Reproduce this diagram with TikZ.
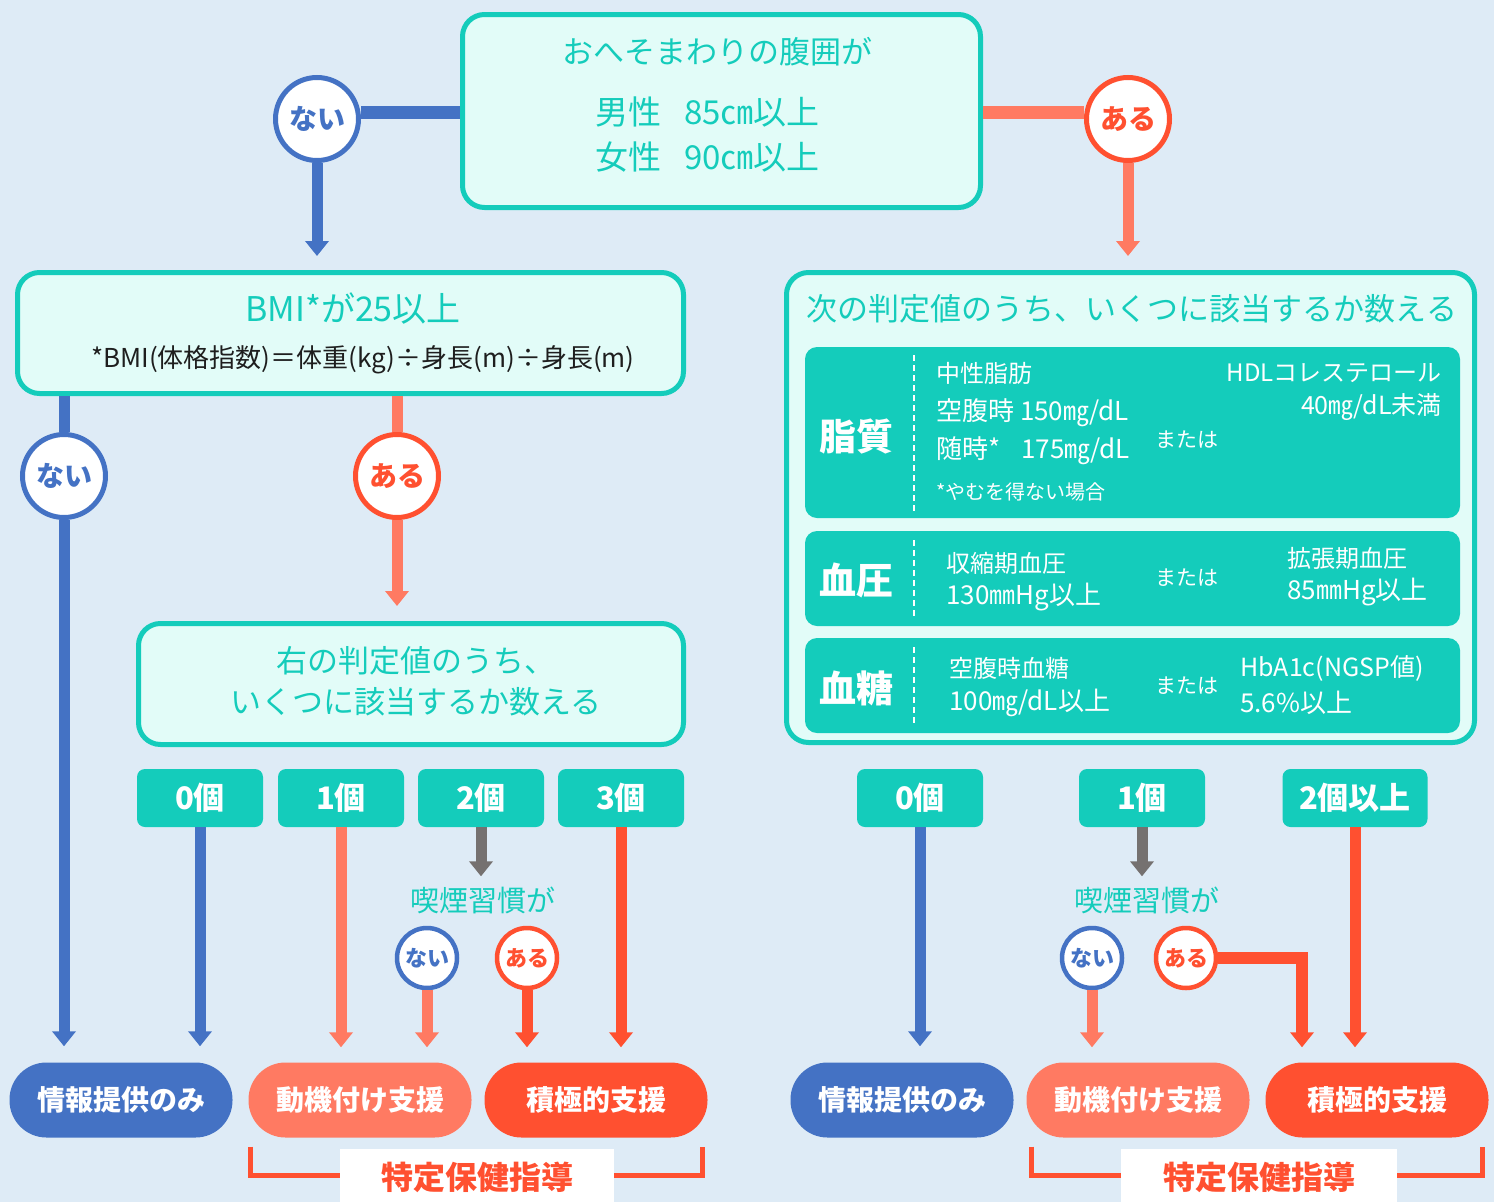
\documentclass[tikz,border=0pt]{standalone}
\usepackage{fontspec}
\setmainfont{Noto Sans CJK JP}
\usetikzlibrary{arrows.meta,calc}
\definecolor{bg}{RGB}{222,235,246}
\definecolor{tl}{RGB}{20,204,187}
\definecolor{lbox}{RGB}{226,252,248}
\definecolor{bl}{RGB}{68,114,196}
\definecolor{sa}{RGB}{255,122,98}
\definecolor{rd}{RGB}{255,80,48}
\definecolor{gy}{RGB}{117,113,112}
\definecolor{ink}{RGB}{30,30,30}
\newcommand{\myfs}[1]{\fontsize{#1}{#1}\selectfont}
\tikzset{
  bigbox/.style={draw=tl, line width=5pt, fill=lbox, rounded corners=22pt, inner sep=0pt},
  rowbox/.style={fill=tl, rounded corners=12pt, inner sep=0pt, minimum width=655pt},
  txt/.style={inner sep=0pt, text=tl},
  wtxt/.style={inner sep=0pt, text=white},
  rowlbl/.style={inner sep=0pt, text=white, font=\bfseries\myfs{37}},
  cnt/.style={fill=tl, rounded corners=8pt, minimum height=58pt, inner sep=0pt, text=white, font=\bfseries\myfs{31}},
  bigc/.style={circle, line width=5pt, fill=white, minimum size=83pt, inner sep=0pt, font=\bfseries\myfs{28}},
  smallc/.style={circle, line width=4.5pt, fill=white, minimum size=60pt, inner sep=0pt, font=\bfseries\myfs{22}},
  pill/.style={rounded corners=37pt, minimum width=223pt, minimum height=75pt, inner sep=0pt, text=white, font=\bfseries\myfs{28}},
  arr/.style={line width=11pt, -{Triangle[width=23pt,length=15pt]}},
  bar/.style={line width=12pt},
  dsh/.style={white, line width=1.5pt, dash pattern=on 6pt off 4pt},
  tag/.style={fill=white, minimum width=274pt, minimum height=56pt, inner sep=0pt, text=rd, font=\bfseries\myfs{32}}
}
\begin{document}
\begin{tikzpicture}[x=1pt,y=-1pt]
\useasboundingbox (0,0) rectangle (1494,1202);
\fill[bg] (0,0) rectangle (1494,1202);

% ---- top box
\node[bigbox, minimum width=518pt, minimum height=193pt] (top) at (721.5,111) {};
\node[txt, font=\myfs{31}] (toptitle) at (717,52) {おへそまわりの腹囲が};
\node[txt, font=\myfs{33}, anchor=west] (men) at (595,112) {男性\hspace{0.7em}85㎝以上};
\node[txt, font=\myfs{33}, anchor=west] (women) at (595,157) {女性\hspace{0.7em}90㎝以上};

\node[bigc, draw=bl, text=bl] (n1) at (317,119) {ない};
\node[bigc, draw=rd, text=rd] (a1) at (1128,119) {ある};

% ---- BMI box
\node[bigbox, minimum width=666pt, minimum height=121pt] (bmi) at (350.5,333) {};
\node[txt, font=\myfs{34}] (bmititle) at (353,309) {BMI*が25以上};
\node[inner sep=0pt, text=ink, font=\myfs{26}] (bmidef) at (363,360) {*BMI(体格指数)＝体重(kg)÷身長(m)÷身長(m)};

% ---- right big box
\node[bigbox, minimum width=688pt, minimum height=470pt] (rbox) at (1130.5,507.5) {};
\node[txt, font=\myfs{31}] (rtitle) at (1132,309) {次の判定値のうち、いくつに該当するか数える};

\node[rowbox, minimum height=171pt] (row1) at (1132.5,432.5) {};
\node[rowbox, minimum height=95pt] (row2) at (1132.5,578.5) {};
\node[rowbox, minimum height=95pt] (row3) at (1132.5,685.5) {};
\draw[dsh] (914,355) -- (914,511);
\draw[dsh] (914,540) -- (914,619);
\draw[dsh] (914,647) -- (914,726);

\node[rowlbl] (l1) at (856,437) {脂質};
\node[wtxt, font=\myfs{24}, anchor=west] (r1a) at (936,373) {中性脂肪};
\node[wtxt, font=\myfs{26}, anchor=west] (r1b) at (936,413) {空腹時 150㎎/dL};
\node[wtxt, font=\myfs{26}, anchor=west] (r1c) at (936,451) {随時*\hspace{0.8em}175㎎/dL};
\node[wtxt, font=\myfs{20}, anchor=west] (r1d) at (936,492) {*やむを得ない場合};
\node[wtxt, font=\myfs{21}] (r1or) at (1187,440) {または};
\node[wtxt, font=\myfs{24}, anchor=east] (r1e) at (1442,373) {HDLコレステロール};
\node[wtxt, font=\myfs{25}, anchor=east] (r1f) at (1442,407) {40㎎/dL未満};

\node[rowlbl] (l2) at (856,580) {血圧};
\node[wtxt, font=\myfs{24}, anchor=west] (r2a) at (946,563) {収縮期血圧};
\node[wtxt, font=\myfs{26}, anchor=west] (r2b) at (946,597) {130㎜Hg以上};
\node[wtxt, font=\myfs{21}] (r2or) at (1187,578) {または};
\node[wtxt, font=\myfs{24}, anchor=west] (r2c) at (1287,558) {拡張期血圧};
\node[wtxt, font=\myfs{26}, anchor=west] (r2d) at (1287,592) {85㎜Hg以上};

\node[rowlbl] (l3) at (856,688) {血糖};
\node[wtxt, font=\myfs{24}, anchor=west] (r3a) at (949,668) {空腹時血糖};
\node[wtxt, font=\myfs{26}, anchor=west] (r3b) at (949,703) {100㎎/dL以上};
\node[wtxt, font=\myfs{21}] (r3or) at (1187,686) {または};
\node[wtxt, font=\myfs{25}, anchor=west] (r3c) at (1240,668) {HbA1c(NGSP値)};
\node[wtxt, font=\myfs{26}, anchor=west] (r3d) at (1240,703) {5.6\%以上};

% ---- left second level
\node[bigc, draw=bl, text=bl] (n2) at (64,476) {ない};
\node[bigc, draw=rd, text=rd] (a2) at (397,476) {ある};

\node[bigbox, minimum width=545pt, minimum height=121pt] (mid) at (411,684) {};
\node[txt, font=\myfs{31}, align=center] (midtext) at (416,681) {右の判定値のうち、\\[10pt]いくつに該当するか数える};

% ---- count boxes
\node[cnt, minimum width=126pt] (c0) at (200,798) {0個};
\node[cnt, minimum width=126pt] (c1) at (341,798) {1個};
\node[cnt, minimum width=126pt] (c2) at (481,798) {2個};
\node[cnt, minimum width=126pt] (c3) at (621,798) {3個};

\node[cnt, minimum width=126pt] (d0) at (920,798) {0個};
\node[cnt, minimum width=126pt] (d1) at (1142,798) {1個};
\node[cnt, minimum width=145pt] (d2) at (1355,798) {2個以上};

\node[txt, font=\myfs{29}] (smk1) at (483,900) {喫煙習慣が};
\node[txt, font=\myfs{29}] (smk2) at (1147,900) {喫煙習慣が};

\node[smallc, draw=bl, text=bl] (sn1) at (427,958) {ない};
\node[smallc, draw=rd, text=rd] (sa1) at (527,958) {ある};
\node[smallc, draw=bl, text=bl] (sn2) at (1092,958) {ない};
\node[smallc, draw=rd, text=rd] (sa2) at (1186,958) {ある};

% ---- result pills
\node[pill, fill=bl] (pL1) at (121,1100) {情報提供のみ};
\node[pill, fill=sa] (pL2) at (360,1100) {動機付け支援};
\node[pill, fill=rd] (pL3) at (596,1100) {積極的支援};
\node[pill, fill=bl] (pR1) at (902,1100) {情報提供のみ};
\node[pill, fill=sa] (pR2) at (1138,1100) {動機付け支援};
\node[pill, fill=rd] (pR3) at (1377,1100) {積極的支援};

% ---- connectors: top
\draw[bar, bl, line width=13pt] ([yshift=7pt]n1.east) -- ([yshift=7pt]n1.east -| top.west);
\draw[bar, sa, line width=13pt] ([yshift=7pt]a1.west -| top.east) -- ([yshift=7pt]a1.west);
\draw[arr, bl, shorten >=14pt] (n1.south) -- (n1.south |- bmi.north);
\draw[arr, sa, shorten >=14pt] (a1.south) -- (a1.south |- rbox.north);

% ---- left branch
\draw[bar, bl, line width=11pt] (bmi.south -| n2) -- (n2.north);
\draw[bar, sa, line width=11pt] (bmi.south -| a2) -- (a2.north);
\draw[arr, bl, shorten >=16pt] (n2.south) -- (n2.south |- pL1.north);
\draw[arr, sa, shorten >=15pt] (a2.south) -- (a2.south |- mid.north);

\draw[arr, bl, shorten >=16pt] (c0.south) -- (c0.south |- pL1.north);
\draw[arr, sa, shorten >=15pt] (c1.south) -- (c1.south |- pL2.north);
\draw[arr, gy, shorten >=10pt] (c2.south) -- (smk1.north -| c2.south);
\draw[arr, sa, shorten >=15pt] (sn1.south) -- (sn1.south |- pL2.north);
\draw[arr, rd, shorten >=15pt] (sa1.south) -- (sa1.south |- pL3.north);
\draw[arr, rd, shorten >=15pt] (c3.south) -- (c3.south |- pL3.north);

% ---- right branch
\draw[arr, bl, shorten >=16pt] (d0.south) -- (d0.south |- pR1.north);
\draw[arr, gy, shorten >=10pt] (d1.south) -- (smk2.north -| d1.south);
\draw[arr, sa, shorten >=15pt] (sn2.south) -- (sn2.south |- pR2.north);
\draw[arr, rd, shorten >=15pt, line width=12pt] (sa2.east) -| ([xshift=-75pt]pR3.north);
\draw[arr, rd, shorten >=15pt] (d2.south) -- (d2.south |- pR3.north);

% ---- brackets
\draw[rd, line width=5pt] ([xshift=2pt,yshift=-9pt]pL2.south west) |- ([xshift=-5pt,yshift=-38pt]pL3.south east) -- ([xshift=-5pt,yshift=-9pt]pL3.south east);
\node[tag] (tagL) at (477,1177) {特定保健指導};
\draw[rd, line width=5pt] ([xshift=5pt,yshift=-9pt]pR2.south west) |- ([xshift=-6pt,yshift=-38pt]pR3.south east) -- ([xshift=-6pt,yshift=-9pt]pR3.south east);
\node[tag, minimum width=276pt] (tagR) at (1259,1177) {特定保健指導};
\end{tikzpicture}
\end{document}
